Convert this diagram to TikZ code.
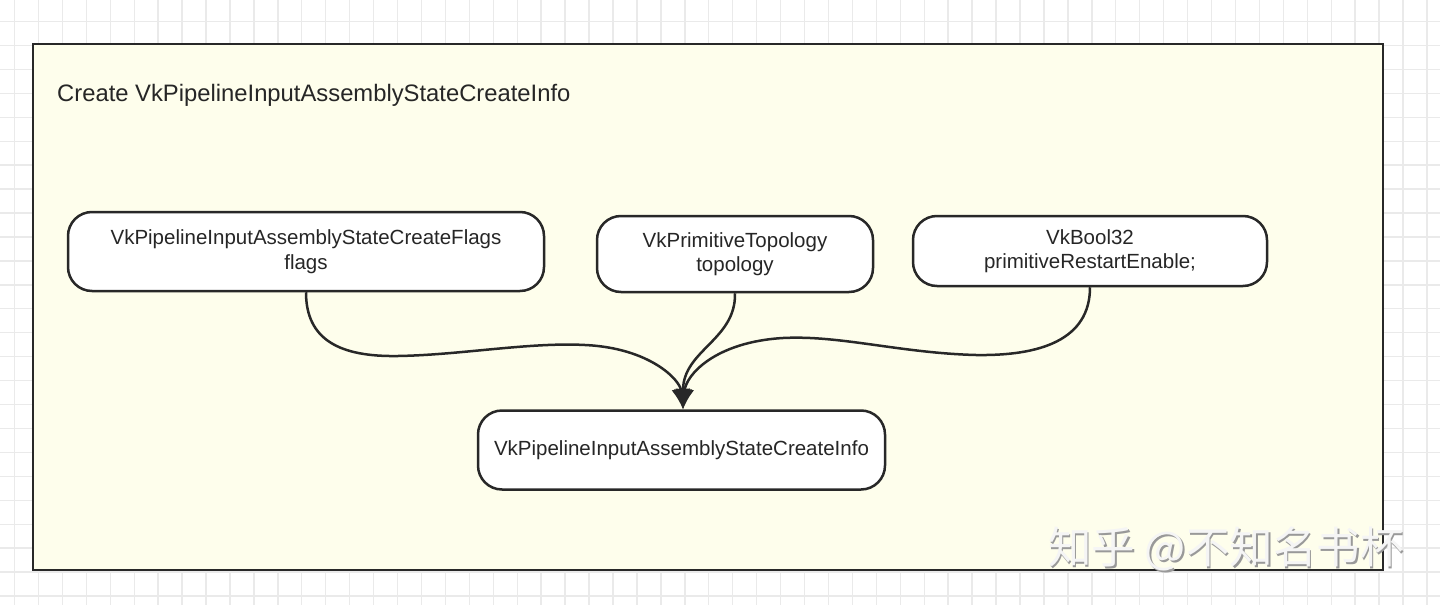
\documentclass[tikz,border=0pt]{standalone}
\usepackage{fontspec}
\setmainfont{Liberation Sans}
\newfontfamily\cjk{Noto Sans CJK SC}
\usetikzlibrary{arrows.meta}
\definecolor{panelfill}{RGB}{254,254,236}
\definecolor{inkline}{RGB}{40,40,40}
\definecolor{gridgray}{RGB}{234,234,234}
\begin{document}
\begin{tikzpicture}[x=1pt,y=-1pt,
    field/.style={draw=inkline,line width=2.5pt,fill=white,rounded corners=24pt,
      align=center,inner sep=0pt,font=\fontsize{20.5}{24.5}\selectfont,text=black!85},
    conn/.style={draw=inkline,line width=2.5pt,-{Latex[length=20pt,width=19pt]}}]
  \useasboundingbox (0,0) rectangle (1440,605);
  \fill[white] (0,0) rectangle (1440,605);
  % grid paper
  \foreach \i in {0,...,60}
    \draw[gridgray,line width=1.4pt] (14.5+23.94*\i,0) -- ++(0,605);
  \foreach \j in {0,...,25}
    \draw[gridgray,line width=1.4pt] (0,21.5+23.94*\j) -- ++(1440,0);
  % panel
  \draw[inkline,fill=panelfill,line width=2.5pt] (33,44) rectangle (1383,570);
  \node[anchor=base west,inner sep=0pt,font=\fontsize{23.8}{28}\selectfont,text=black!85]
    (title) at (57,101) {Create VkPipelineInputAssemblyStateCreateInfo};
  % fields
  \node[field,minimum width=476pt,minimum height=79pt] (flags) at (306,251.5)
    {VkPipelineInputAssemblyStateCreateFlags\\flags};
  \node[field,minimum width=276pt,minimum height=76pt] (topo) at (735,254)
    {VkPrimitiveTopology\\topology};
  \node[field,minimum width=354pt,minimum height=70pt] (restart) at (1090,251)
    {VkBool32\\primitiveRestartEnable;};
  \node[field,minimum width=407pt,minimum height=79pt] (info) at (681.5,450)
    {VkPipelineInputAssemblyStateCreateInfo};
  \coordinate (tip) at ([xshift=1.5pt]info.north);
  % connectors
  \draw[conn] (flags.south) .. controls (306,340) and (340,357) .. (398,356)
    .. controls (460,355) and (530,342) .. (585,345)
    .. controls (650,348) and (680,380) .. (tip);
  \draw[conn] (topo.south) .. controls (736,340) and (683,350) .. (tip);
  \draw[conn] (restart.south) .. controls (1090,340) and (1040,356) .. (976,355)
    .. controls (900,353) and (840,335) .. (783,338)
    .. controls (715,342) and (686,375) .. (tip);
  % watermark
  \node[anchor=base west,inner sep=0pt,font=\cjk\fontsize{43.5}{44}\selectfont,text=black!40]
    at (1049.5,565) {知乎 @不知名书杯};
  \node[anchor=base west,inner sep=0pt,font=\cjk\fontsize{43.5}{44}\selectfont,text=white!96!black]
    (mark) at (1048,563.5) {知乎 @不知名书杯};
\end{tikzpicture}
\end{document}
